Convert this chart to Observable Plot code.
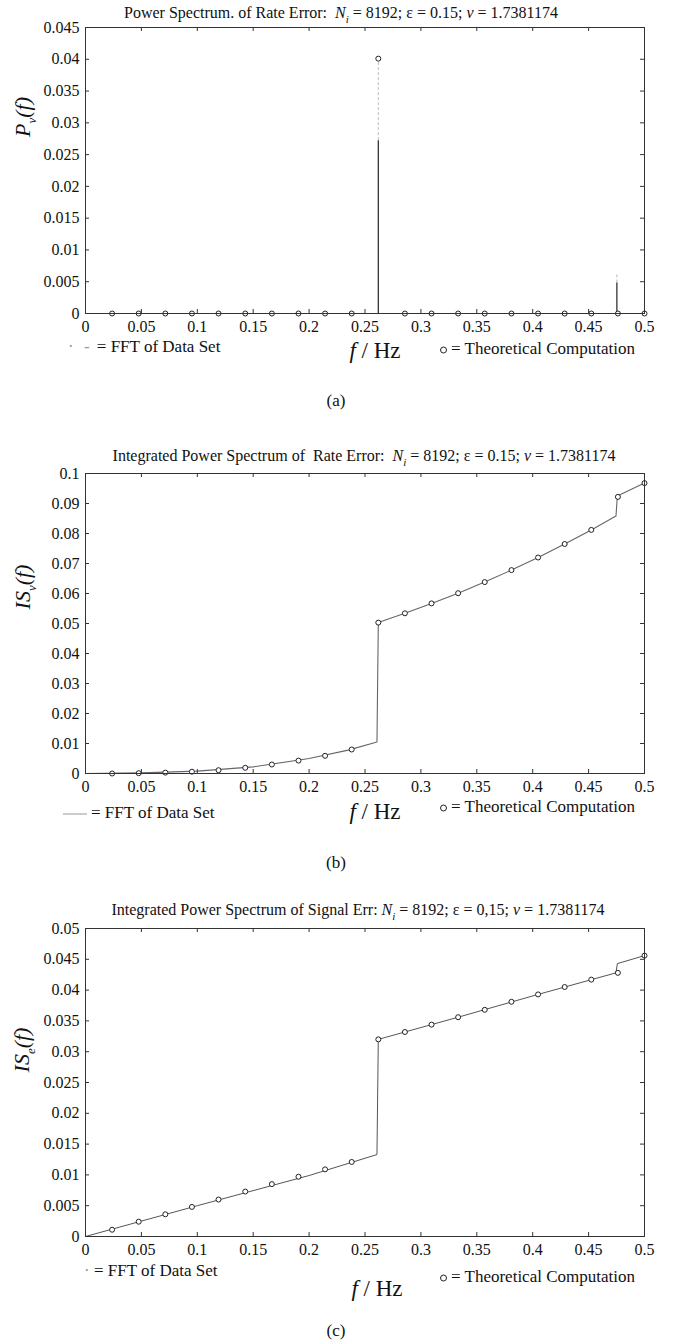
<!DOCTYPE html>
<html>
<head>
<meta charset="utf-8">
<script src="https://cdn.jsdelivr.net/npm/d3@7"></script>
<script src="https://cdn.jsdelivr.net/npm/@observablehq/plot@0.6"></script>
<style>
  body { margin: 0; background: #fff; }
  #fig { position: relative; width: 673px; height: 1341px; overflow: hidden;
         font-family: "Liberation Serif", "Times New Roman", serif; color: #111; }
  .abs { position: absolute; white-space: nowrap; line-height: 1; }
  .c { transform: translate(-50%, -50%); }
  .l { transform: translate(0, -50%); }
  .title { font-size: 16px; }
  .ylab { font-size: 22px; font-style: italic; transform: translate(-50%, -50%) rotate(-90deg); }
  .ylab sub { font-size: 13px; }
  .title sub { font-size: 11px; }
  .xlab { font-size: 23px; }
  .leg { font-size: 17px; }
  .cap { font-size: 17px; }
  .circ { display: inline-block; width: 5px; height: 5px; border: 1px solid #222; border-radius: 50%;
          vertical-align: middle; margin-right: 4px; }
  .plot { position: absolute; left: 0; }
</style>
</head>
<body>
<div id="fig"></div>
<script>
// Frequency axis and tick values shared by all three panels
const xTicks = [0, 0.05, 0.1, 0.15, 0.2, 0.25, 0.3, 0.35, 0.4, 0.45, 0.5];
const yTicksA = [0, 0.005, 0.01, 0.015, 0.02, 0.025, 0.03, 0.035, 0.04, 0.045];
const yTicksB = [0, 0.01, 0.02, 0.03, 0.04, 0.05, 0.06, 0.07, 0.08, 0.09, 0.1];
const yTicksC = [0, 0.005, 0.01, 0.015, 0.02, 0.025, 0.03, 0.035, 0.04, 0.045, 0.05];

// Frequencies of the theoretical computation (circles)
const theoryFreq = [0.0238, 0.0476, 0.0714, 0.0952, 0.1190, 0.1429, 0.1667, 0.1905, 0.2143, 0.2381,
                    0.2619, 0.2857, 0.3095, 0.3333, 0.3571, 0.3810, 0.4048, 0.4286, 0.4524, 0.4762, 0.5000];

// (a) power spectrum of rate error
const theoryP = [0, 0, 0, 0, 0, 0, 0, 0, 0, 0, 0.0401, 0, 0, 0, 0, 0, 0, 0, 0, 0, 0];
const fftBaseFreq = [0, 0.5];
const fftBaseVal = [0, 0];
const fftPeakFreq = [0.2619, 0.4753];
const fftPeakVal = [0.0272, 0.0048];
const fftPeakFaint = [0.0395, 0.0063];

// (b) integrated power spectrum of rate error
const theoryISv = [0.0000, 0.0001, 0.0003, 0.0006, 0.0011, 0.0019, 0.0030, 0.0043, 0.0059, 0.0080,
                   0.0503, 0.0534, 0.0567, 0.0601, 0.0638, 0.0678, 0.0720, 0.0765, 0.0812, 0.0922, 0.0968];
const fftISvFreq = [0, 0.05, 0.1, 0.15, 0.2, 0.235, 0.2607, 0.2619, 0.2857, 0.3095, 0.3333, 0.3571,
                    0.3810, 0.4048, 0.4286, 0.4524, 0.4745, 0.4757, 0.5];
const fftISvVal = [0, 0.0002, 0.0008, 0.0022, 0.0050, 0.0078, 0.0105, 0.0503, 0.0534, 0.0567, 0.0601,
                   0.0638, 0.0678, 0.0720, 0.0765, 0.0812, 0.0858, 0.0925, 0.0968];

// (c) integrated power spectrum of signal error
const theoryISe = [0.0011, 0.0024, 0.0036, 0.0048, 0.0060, 0.0073, 0.0085, 0.0097, 0.0109, 0.0121,
                   0.0320, 0.0332, 0.0344, 0.0356, 0.0368, 0.0381, 0.0393, 0.0405, 0.0417, 0.0428, 0.0456];
const fftISeFreq = [0, 0.1, 0.2, 0.2607, 0.2619, 0.3333, 0.4048, 0.4745, 0.4757, 0.5];
const fftISeVal = [0, 0.0050, 0.0099, 0.0133, 0.0320, 0.0356, 0.0393, 0.0428, 0.0443, 0.0456];

const W = 673, ML = 85, MR = 29;
const fmt = d => String(d);
const fig = document.getElementById("fig");

function rows(xs, ys) { return xs.map((x, i) => ({x, y: ys[i]})); }

function panel({top, height, mTop, mBottom, yDomain, yTicks, marks}) {
  const innerH = height - mTop - mBottom;
  const innerW = W - ML - MR;
  const chart = Plot.plot({
    width: W, height,
    marginLeft: ML, marginRight: MR, marginTop: mTop, marginBottom: mBottom,
    style: {fontFamily: '"Liberation Serif", "Times New Roman", serif', fontSize: "16px",
            color: "#111", background: "transparent", overflow: "visible"},
    x: {domain: [0, 0.5]},
    y: {domain: yDomain},
    marks: [
      ...marks,
      Plot.frame({stroke: "#333", strokeWidth: 1}),
      Plot.axisX(xTicks, {tickSize: 0, tickPadding: 7, tickFormat: fmt, fontSize: 16, label: null}),
      Plot.axisY(yTicks, {tickSize: 0, tickPadding: 6, tickFormat: fmt, fontSize: 16, label: null}),
      Plot.tickX(xTicks, {insetTop: innerH - 4, stroke: "#333"}),
      Plot.tickX(xTicks, {insetBottom: innerH - 4, stroke: "#333"}),
      Plot.tickY(yTicks, {insetRight: innerW - 4, stroke: "#333"}),
      Plot.tickY(yTicks, {insetLeft: innerW - 4, stroke: "#333"})
    ]
  });
  chart.classList.add("plot");
  chart.style.top = top + "px";
  fig.appendChild(chart);
}

function text(html, cls, x, y) {
  const d = document.createElement("div");
  d.className = "abs " + cls;
  d.style.left = x + "px";
  d.style.top = y + "px";
  d.innerHTML = html;
  fig.appendChild(d);
}

const circles = ys => Plot.dot(rows(theoryFreq, ys), {x: "x", y: "y", r: 2.5, stroke: "#222", strokeWidth: 1, fill: "white"});
const ni = '<i>N<sub>i</sub></i>';
const fHz = '<i>f</i> / Hz';
const theoLeg = '<span class="circ"></span>= Theoretical Computation';

// (a)
panel({
  top: 0, height: 340, mTop: 27, mBottom: 27, yDomain: [0, 0.045], yTicks: yTicksA,
  marks: [
    Plot.line(rows(fftBaseFreq, fftBaseVal), {x: "x", y: "y", stroke: "#222", strokeWidth: 1}),
    Plot.ruleX(fftPeakFreq.map((f, i) => ({f, y1: fftPeakVal[i], y2: fftPeakFaint[i]})),
               {x: "f", y1: "y1", y2: "y2", stroke: "#bbb", strokeWidth: 1, strokeDasharray: "3,2"}),
    Plot.ruleX(fftPeakFreq.map((f, i) => ({f, y: fftPeakVal[i]})),
               {x: "f", y1: 0, y2: "y", stroke: "#222", strokeWidth: 1.2}),
    circles(theoryP)
  ]
});
text(`Power Spectrum. of Rate Error:&nbsp; ${ni} = 8192; ε = 0.15; <i>ν</i> = 1.7381174`, "title c", 341, 15);
text('<i>P<sub>v</sub></i>(<i>f</i>)', "ylab", 25, 117);
text('<span style="color:#999;letter-spacing:3px">· -</span> = FFT of Data Set', "leg l", 68, 346);
text(fHz, "xlab c", 375, 350);
text(theoLeg, "leg l", 440, 348);
text("(a)", "cap c", 336, 400);

// (b)
panel({
  top: 440, height: 360, mTop: 33, mBottom: 27, yDomain: [0, 0.1], yTicks: yTicksB,
  marks: [
    Plot.line(rows(fftISvFreq, fftISvVal), {x: "x", y: "y", stroke: "#666", strokeWidth: 1.1}),
    circles(theoryISv)
  ]
});
text(`Integrated Power Spectrum of&nbsp; Rate Error:&nbsp; ${ni} = 8192; ε = 0.15; <i>ν</i> = 1.7381174`, "title c", 364, 458);
text('<i>IS<sub>v</sub></i>(<i>f</i>)', "ylab", 25, 587);
text('<span style="display:inline-block;width:24px;border-top:1.5px solid #999;vertical-align:middle;margin-right:4px"></span>= FFT of Data Set', "leg l", 63, 812);
text(fHz, "xlab c", 375, 811);
text(theoLeg, "leg l", 440, 806);
text("(b)", "cap c", 336, 862);

// (c)
panel({
  top: 900, height: 360, mTop: 28, mBottom: 24, yDomain: [0, 0.05], yTicks: yTicksC,
  marks: [
    Plot.line(rows(fftISeFreq, fftISeVal), {x: "x", y: "y", stroke: "#555", strokeWidth: 1}),
    circles(theoryISe)
  ]
});
text(`Integrated Power Spectrum of Signal Err: ${ni} = 8192; ε = 0,15; <i>ν</i> = 1.7381174`, "title c", 358, 912);
text('<i>IS<sub>e</sub></i>(<i>f</i>)', "ylab", 24, 1050);
text('<span style="color:#999">·</span> = FFT of Data Set', "leg l", 84, 1270);
text(fHz, "xlab c", 377, 1288);
text(theoLeg, "leg l", 440, 1276);
text("(c)", "cap c", 336, 1330);
</script>
</body>
</html>
